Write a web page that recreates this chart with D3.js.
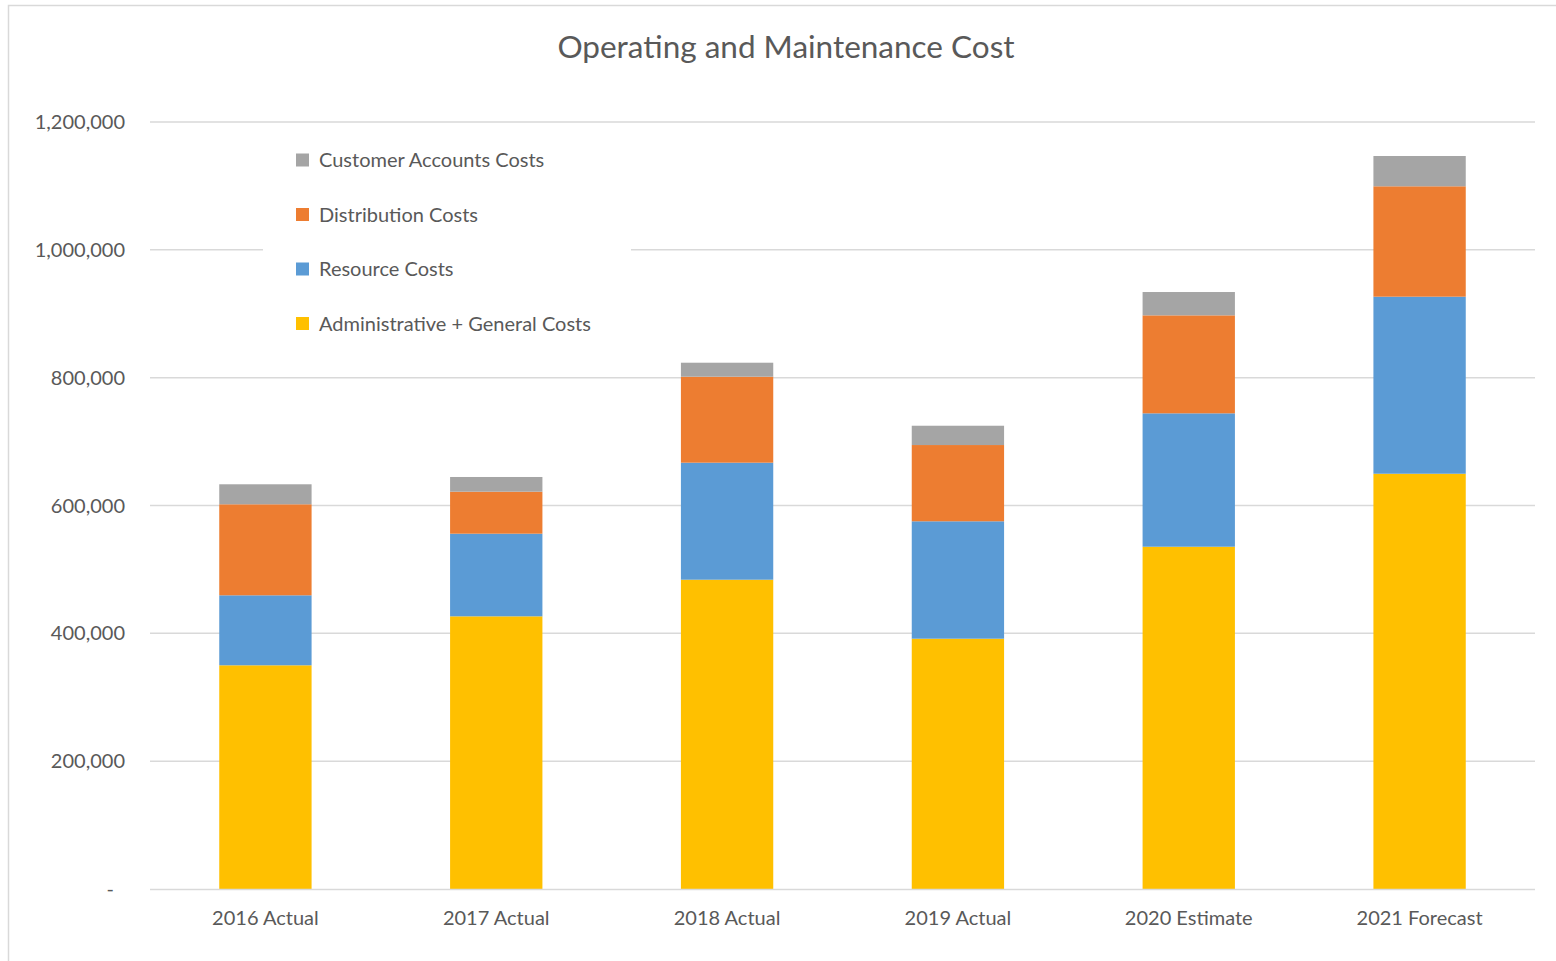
<!DOCTYPE html>
<html>
<head>
<meta charset="utf-8">
<script src="https://cdn.jsdelivr.net/npm/d3@7"></script>
<style>
  body { margin: 0; background: #fff; }
  text { font-family: Lato, "Open Sans", sans-serif; fill: #595959; }
</style>
</head>
<body>
<script>
// data
const categories = ["2016 Actual", "2017 Actual", "2018 Actual", "2019 Actual", "2020 Estimate", "2021 Forecast"]
const adminGeneral = [350000, 426600, 483900, 391600, 535500, 649700]
const resource = [109500, 129300, 183100, 183700, 208700, 277000]
const distribution = [142400, 65700, 134500, 119300, 153300, 172700]
const customerAccounts = [31300, 23000, 21900, 30200, 36500, 47400]
const yTicks = [0, 200000, 400000, 600000, 800000, 1000000, 1200000]

const seriesNames = ["Administrative + General Costs", "Resource Costs", "Distribution Costs", "Customer Accounts Costs"]
const seriesKeys = ["ag", "res", "dist", "cust"]
const colors = { ag: "#ffc000", res: "#5b9bd5", dist: "#ed7d31", cust: "#a5a5a5" }

let rows = categories.map((c, i) => {
    return { cat: c, ag: adminGeneral[i], res: resource[i], dist: distribution[i], cust: customerAccounts[i] }
})

let w = 1556
let h = 961
let plotLeft = 150, plotRight = 1535, plotTop = 122, plotBottom = 889

let svg = d3.select("body").append("svg")
    .attr("width", w)
    .attr("height", h)

// chart frame
svg.append("rect")
    .attr("x", 8.5).attr("y", 5.5)
    .attr("width", w + 10).attr("height", h + 10)
    .attr("fill", "none")
    .attr("stroke", "#d9d9d9")
    .attr("stroke-width", 1.5)

let x = d3.scaleBand()
    .domain(categories)
    .range([plotLeft, plotRight])
    .paddingInner(0.6)
    .paddingOuter(0.3)

let y = d3.scaleLinear()
    .domain([0, 1200000])
    .range([plotBottom, plotTop])

// gridlines
svg.append("g")
    .selectAll("line")
    .data(yTicks.filter(t => t > 0))
    .enter().append("line")
    .attr("x1", plotLeft).attr("x2", plotRight)
    .attr("y1", d => y(d)).attr("y2", d => y(d))
    .attr("stroke", "#d9d9d9")
    .attr("stroke-width", 1.5)

// y labels
svg.append("g")
    .selectAll("text")
    .data(yTicks)
    .enter().append("text")
    .attr("x", d => d === 0 ? 114 : 125)
    .attr("y", d => y(d) + 7)
    .attr("text-anchor", "end")
    .style("font-size", "20px")
    .text(d => d === 0 ? "-" : d3.format(",")(d))

// stacked bars
let stack = d3.stack().keys(seriesKeys)(rows)

svg.append("g")
    .selectAll("g")
    .data(stack)
    .enter().append("g")
    .attr("fill", d => colors[d.key])
    .selectAll("rect")
    .data(d => d)
    .enter().append("rect")
    .attr("x", d => x(d.data.cat))
    .attr("width", x.bandwidth())
    .attr("y", d => y(d[1]))
    .attr("height", d => y(d[0]) - y(d[1]))

// x axis line
svg.append("line")
    .attr("x1", plotLeft).attr("x2", plotRight)
    .attr("y1", plotBottom + 0.5).attr("y2", plotBottom + 0.5)
    .attr("stroke", "#d9d9d9")
    .attr("stroke-width", 1.5)

svg.append("g")
    .selectAll("text")
    .data(categories)
    .enter().append("text")
    .attr("x", d => x(d) + x.bandwidth() / 2)
    .attr("y", 925)
    .attr("text-anchor", "middle")
    .style("font-size", "20px")
    .text(d => d)

// legend (white box covers the gridline behind it)
let legend = svg.append("g")
legend.append("rect")
    .attr("x", 263).attr("y", 136)
    .attr("width", 368).attr("height", 206)
    .attr("fill", "#fff")

let legendOrder = ["cust", "dist", "res", "ag"]
let legendItems = legend.selectAll("g.item")
    .data(legendOrder)
    .enter().append("g")
    .attr("class", "item")
    .attr("transform", (d, i) => "translate(296," + (160 + i * 54.5) + ")")

legendItems.append("rect")
    .attr("x", 0).attr("y", -6.5)
    .attr("width", 13).attr("height", 13)
    .attr("fill", d => colors[d])

legendItems.append("text")
    .attr("x", 23)
    .attr("y", 7)
    .style("font-size", "20px")
    .text(d => seriesNames[seriesKeys.indexOf(d)])

// title
svg.append("text")
    .attr("x", 786)
    .attr("y", 58)
    .attr("text-anchor", "middle")
    .style("font-size", "31.5px")
    .text("Operating and Maintenance Cost")
</script>
</body>
</html>
